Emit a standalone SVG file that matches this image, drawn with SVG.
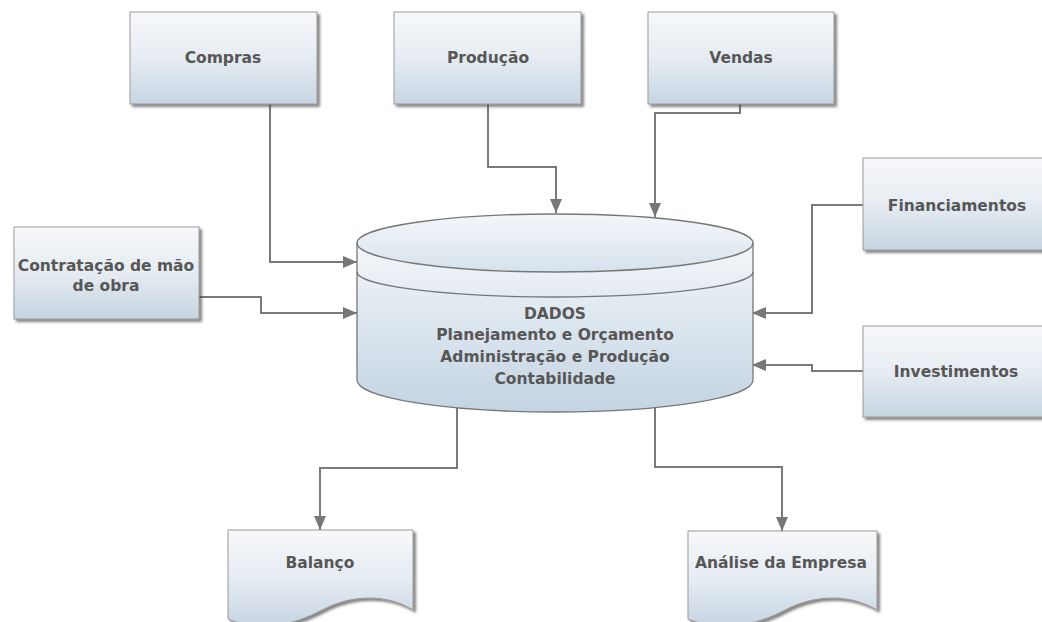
<svg xmlns="http://www.w3.org/2000/svg" width="1042" height="622" viewBox="0 0 1042 622">
  <defs>
    <linearGradient id="boxGrad" x1="0" y1="0" x2="0" y2="1">
      <stop offset="0" stop-color="#f7f8fa"/>
      <stop offset="0.5" stop-color="#e6ecf2"/>
      <stop offset="1" stop-color="#c6d5e2"/>
    </linearGradient>
    <linearGradient id="bodyGrad" x1="0" y1="0" x2="0" y2="1">
      <stop offset="0" stop-color="#f3f6f9"/>
      <stop offset="1" stop-color="#c3d4e3"/>
    </linearGradient>
    <linearGradient id="topGrad" x1="0" y1="0" x2="0" y2="1">
      <stop offset="0" stop-color="#f4f7fa"/>
      <stop offset="1" stop-color="#d6e2ec"/>
    </linearGradient>
    <filter id="shadow" x="-10%" y="-10%" width="130%" height="130%">
      <feDropShadow dx="2.5" dy="2.5" stdDeviation="1.2" flood-color="#444" flood-opacity="0.65"/>
    </filter>
    <marker id="arrow" markerUnits="userSpaceOnUse" markerWidth="15" markerHeight="12" refX="14" refY="6" orient="auto">
      <path d="M0,0 L14,6 L0,12 Z" fill="#777"/>
    </marker>
  </defs>
  <style>
    .box { fill: url(#boxGrad); stroke: #9a9a9a; stroke-width: 1; filter: url(#shadow); }
    .lbl { font-family: "DejaVu Sans", "Liberation Sans", sans-serif; font-weight: bold; font-size: 15.5px; fill: #575757; text-anchor: middle; }
    .conn { fill: none; stroke: #7a7a7a; stroke-width: 2; marker-end: url(#arrow); }
    .cyl { stroke: #777; stroke-width: 1.3; }
  </style>
  <rect width="1042" height="622" fill="#ffffff"/>

  <g id="connectors">
    <path class="conn" d="M270,104 V262 H357"/>
    <path class="conn" d="M199,297 H261 V313 H357"/>
    <path class="conn" d="M488,104 V167 H556 V213"/>
    <path class="conn" d="M740,104 V113 H655 V217"/>
    <path class="conn" d="M863,205 H812 V313 H752"/>
    <path class="conn" d="M863,371 H812 V365 H752"/>
    <path class="conn" d="M457,408 V468 H320 V530"/>
    <path class="conn" d="M655,407 V467 H782 V531"/>
  </g>

  <g id="compras">
    <rect class="box" x="130" y="12" width="187" height="92"/>
    <text class="lbl" x="223" y="63">Compras</text>
  </g>
  <g id="producao">
    <rect class="box" x="394" y="12" width="187" height="92"/>
    <text class="lbl" x="488" y="63">Produção</text>
  </g>
  <g id="vendas">
    <rect class="box" x="648" y="12" width="186" height="92"/>
    <text class="lbl" x="741" y="63">Vendas</text>
  </g>
  <g id="contratacao">
    <rect class="box" x="14" y="227" width="185" height="92"/>
    <text class="lbl" x="106" y="271">Contratação de mão</text>
    <text class="lbl" x="106" y="291">de obra</text>
  </g>
  <g id="financiamentos">
    <rect class="box" x="863" y="158" width="190" height="92"/>
    <text class="lbl" x="957" y="211">Financiamentos</text>
  </g>
  <g id="investimentos">
    <rect class="box" x="863" y="326" width="190" height="91"/>
    <text class="lbl" x="956" y="377">Investimentos</text>
  </g>

  <g id="dados">
    <path class="cyl" d="M357,243 V380 A198,32 0 0 0 753,380 V243 Z" fill="url(#bodyGrad)"/>
    <ellipse class="cyl" cx="555" cy="243" rx="198" ry="29" fill="url(#topGrad)"/>
    <path class="cyl" d="M357,272 A198,25 0 0 0 753,272" fill="none"/>
    <text class="lbl" x="555" y="319">DADOS</text>
    <text class="lbl" x="555" y="340">Planejamento e Orçamento</text>
    <text class="lbl" x="555" y="362">Administração e Produção</text>
    <text class="lbl" x="555" y="384">Contabilidade</text>
  </g>

  <g id="balanco">
    <path class="box" d="M228,530 H413 V610 C388,594 352,594 322,610 S258,632 228,619 Z"/>
    <text class="lbl" x="320" y="568">Balanço</text>
  </g>
  <g id="analise">
    <path class="box" d="M688,531 H877 V610 C851,594 815,594 785,610 S720,632 688,619 Z"/>
    <text class="lbl" x="781" y="568">Análise da Empresa</text>
  </g>
</svg>
